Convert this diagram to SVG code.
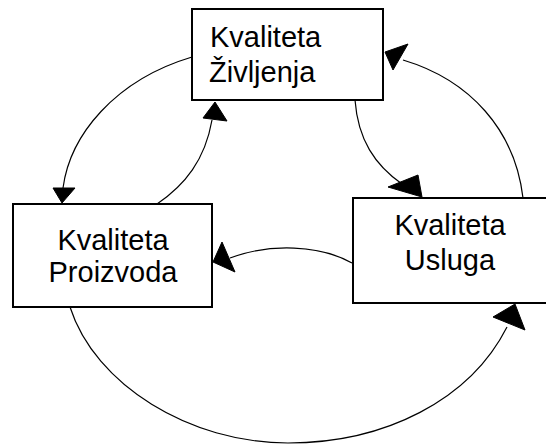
<svg xmlns="http://www.w3.org/2000/svg" width="546" height="445" viewBox="0 0 546 445">
<style>
.box{fill:#fff;stroke:#000;stroke-width:2}
.lbl{font-family:"Liberation Sans",Arial,sans-serif;font-size:29px;fill:#000}
.c{fill:none;stroke:#000;stroke-width:1.2}
.ah{fill:#000;stroke:#000;stroke-width:1}
</style>
<rect width="546" height="445" fill="#fff"/>
<g id="connectors">
<path class="c" d="M192,57 C115,80 70,135 63,188"/>
<polygon class="ah" points="53,188 75,188 62,203"/>
<path class="c" d="M157,204 C185,185 205,160 212,120"/>
<polygon class="ah" points="215,102 203,118 227,121"/>
<path class="c" d="M355,100 C358,140 375,165 402,184"/>
<polygon class="ah" points="388,187 418,175 422,197"/>
<path class="c" d="M523,198 C515,130 470,80 403,60"/>
<polygon class="ah" points="385,52 408,44 393,70"/>
<path class="c" d="M352,263 C320,245 270,243 230,258"/>
<polygon class="ah" points="222,242 213,262 235,272"/>
<path class="c" d="M70,307 C95,385 190,443 288,443 C385,443 470,400 507,327"/>
<polygon class="ah" points="515,304 493,317 525,330"/>
</g>
<g id="zivljenje">
<rect class="box" x="192" y="9" width="191" height="91"/>
<text class="lbl" x="210" y="47">Kvaliteta</text>
<text class="lbl" x="209" y="82">Življenja</text>
</g>
<g id="proizvoda">
<rect class="box" x="13" y="204" width="199" height="103"/>
<text class="lbl" x="113" y="250" text-anchor="middle">Kvaliteta</text>
<text class="lbl" x="113" y="282" text-anchor="middle">Proizvoda</text>
</g>
<g id="usluga">
<rect class="box" x="353" y="198" width="200" height="105"/>
<text class="lbl" x="450" y="235" text-anchor="middle">Kvaliteta</text>
<text class="lbl" x="450" y="270" text-anchor="middle">Usluga</text>
</g>
</svg>
